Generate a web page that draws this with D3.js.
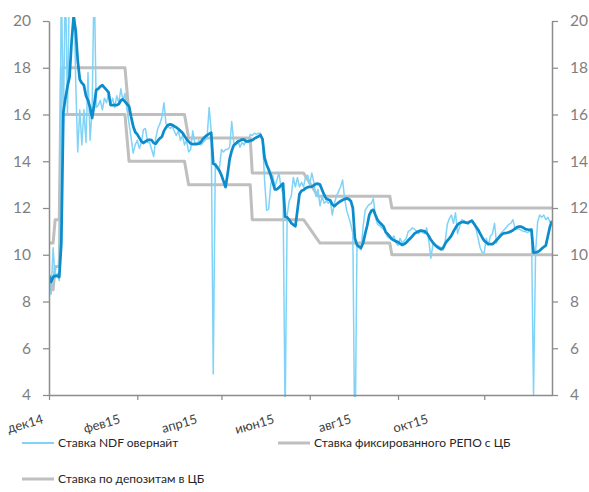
<!DOCTYPE html>
<html>
<head>
<meta charset="utf-8">
<script src="https://cdn.jsdelivr.net/npm/d3@7"></script>
<style>
  body { margin: 0; background: #fff; }
  svg { display: block; }
</style>
</head>
<body>
<svg id="chart" width="589" height="492"></svg>
<script>
// Daily NDF overnight rate, one value per trading day (Dec 2014 – Nov 2015), %
const ndfOvernight = [
  9.1, 8.3, 10.3, 9.0, 9.2, 8.9, 22, 15.6, 22, 16.0,
  22, 22, 22, 17.4, 14.4, 16.2, 14.7, 16.2, 14.8, 17.8,
  14.9, 16.2, 22, 16.3, 16.4, 16.6, 16.2, 16.7, 16.5, 16.9,
  16.4, 16.7, 16.3, 16.8, 16.5, 17.1, 16.6, 16.9, 16.2, 15.6,
  15.0, 14.35, 14.7, 14.9, 14.55, 14.8, 15.35, 15.4, 14.8, 14.8,
  14.5, 14.2, 15.0, 15.4, 15.6, 15.9, 16.5, 15.6, 15.5, 15.4,
  15.5, 15.3, 15.1, 15.3, 14.9, 15.1, 14.7, 14.9, 14.4, 14.5,
  15.3, 14.8, 14.7, 14.9, 14.7, 14.8, 14.9, 15.0, 16.3, 15.3,
  4.9, 13.9, 13.8, 13.7, 14.5, 14.4, 14.5, 14.5, 14.6, 15.7,
  14.8, 14.7, 14.9, 14.6, 14.8, 14.7, 14.9, 14.8, 15.15, 15.1,
  15.2, 15.15, 15.2, 15.2, 14.9, 13.2, 11.9, 11.95, 13.0, 13.4,
  12.9, 13.2, 13.5, 12.9, 12.6, 3.0, 11.7, 12.3, 12.5, 13.3,
  12.9, 13.3, 12.9, 13.1, 12.9, 13.35, 13.4, 13.0, 13.5, 13.1,
  12.5, 12.8, 12.1, 12.5, 12.2, 12.3, 12.2, 12.3, 11.7, 12.2,
  12.5, 12.7, 12.9, 13.2, 12.4, 11.9, 11.6, 11.3, 10.9, 1.0,
  10.4, 10.3, 10.2, 11.2, 11.9, 12.05, 12.15, 12.2, 12.4, 11.6,
  11.3, 11.25, 11.15, 11.1, 10.9, 10.75, 10.7, 10.7, 10.8, 10.5,
  10.4, 10.7, 10.5, 10.6, 10.7, 11.0, 11.05, 11.15, 11.1, 11.0,
  10.9, 11.05, 10.95, 10.9, 11.15, 10.6, 9.85, 10.45, 10.4, 10.4,
  10.35, 10.3, 10.2, 10.6, 11.3, 11.55, 11.7, 11.35, 11.8, 10.9,
  11.2, 11.5, 11.45, 11.4, 11.3, 11.4, 11.5, 11.35, 11.1, 10.7,
  10.3, 10.1, 10.1, 10.7, 10.4, 10.8, 10.9, 11.35, 10.5, 10.8,
  10.9, 11.0, 11.1, 11.2, 11.3, 11.35, 11.5, 11.1, 11.1, 11.1,
  11.05, 11.0, 11.0, 10.95, 11.0, 11.05, 4.0, 10.1, 11.4, 11.7,
  11.6, 11.7, 11.5, 11.6, 11.4, 11.3
];

// Smoothed (moving-average) NDF overnight rate on the same trading days, %
const ndfAverage = [
  9.13, 8.83, 9.05, 9.1, 9.1, 9.05, 10.5, 16.1, 16.7, 17.2,
  17.6, 19.1, 20.2, 19.6, 18.3, 17.5, 17.35, 17.25, 16.8, 16.6,
  16.3, 15.85, 16.4, 17.05, 17.1, 17.2, 17.25, 17.15, 17.05, 16.95,
  16.4, 16.4, 16.4, 16.4, 16.45, 16.6, 16.65, 16.55, 16.45, 16.35,
  15.9, 15.5, 15.25, 15.15, 15.0, 14.85, 14.78, 14.85, 14.9, 14.92,
  14.9, 14.78, 14.75, 14.88, 14.98, 15.05, 15.3, 15.45, 15.55, 15.58,
  15.56, 15.5, 15.45, 15.38, 15.3, 15.22, 15.08, 14.95, 14.85, 14.76,
  14.73, 14.73, 14.74, 14.75, 14.82, 14.95, 15.05, 15.12, 15.17, 15.22,
  13.9, 13.85, 13.72, 13.6, 13.4, 13.15, 12.9, 13.45, 14.1, 14.45,
  14.68, 14.76, 14.84, 14.88, 14.93, 14.93, 14.85, 14.85, 14.88, 14.9,
  14.97, 15.02, 15.06, 15.12, 14.95, 14.15, 13.85, 13.65, 13.4, 13.1,
  12.8, 12.8, 12.88, 12.96, 13.05, 11.63, 11.6, 11.5, 11.36, 11.28,
  11.22, 11.9, 12.6, 12.74, 12.77, 12.85, 12.89, 12.9, 12.91, 12.97,
  13.03, 13.04, 13.0, 12.78, 12.57, 12.4, 12.36, 12.33, 12.15, 12.08,
  12.16, 12.23, 12.29, 12.34, 12.38, 12.41, 12.38, 12.3, 12.0, 10.7,
  10.42, 10.35, 10.3, 10.5, 10.9, 11.25, 11.7, 11.88, 11.92, 11.7,
  11.5, 11.38, 11.3, 11.2, 10.98, 10.88, 10.78, 10.67, 10.62, 10.57,
  10.54, 10.48, 10.42, 10.46, 10.52, 10.62, 10.7, 10.8, 10.9, 10.96,
  11.0, 11.03, 11.02, 11.0, 10.92, 10.8, 10.64, 10.52, 10.42, 10.34,
  10.28, 10.23, 10.3, 10.48, 10.6, 10.7, 10.82, 11.0, 11.15, 11.28,
  11.36, 11.39, 11.41, 11.37, 11.36, 11.42, 11.45, 11.33, 11.2, 11.07,
  10.9, 10.74, 10.6, 10.52, 10.46, 10.45, 10.45, 10.53, 10.63, 10.72,
  10.82, 10.9, 10.93, 10.94, 10.96, 11.0, 11.05, 11.12, 11.18, 11.2,
  11.2, 11.16, 11.1, 11.08, 11.06, 11.07, 10.09, 10.1, 10.12, 10.18,
  10.26, 10.33, 10.4, 10.8, 11.2, 11.45
];

// Central bank fixed REPO rate: [trading day, %] at each change
const repoRate = [
  [0, 10.5], [2, 10.5], [3, 11.5], [5, 11.5], [6, 18], [37, 18], [39, 16],
  [66, 16], [68, 15], [98, 15], [99, 13.5], [124, 13.5], [131, 12.5],
  [166, 12.5], [167, 12], [245, 12]
];

// Central bank deposit rate: [trading day, %] at each change
const depositRate = [
  [0, 8.5], [2, 8.5], [3, 9.5], [5, 9.5], [6, 16], [37, 16], [39, 14],
  [66, 14], [68, 13], [98, 13], [99, 11.5], [124, 11.5], [132, 10.5],
  [166, 10.5], [167, 10], [245, 10]
];

const yTicks = [4, 6, 8, 10, 12, 14, 16, 18, 20];
const monthTickDays = [0, 43, 84, 127, 170, 212];
const monthLabels = ["дек14", "фев15", "апр15", "июн15", "авг15", "окт15"];
const seriesNames = ["Ставка NDF овернайт", "Ставка фиксированного РЕПО с ЦБ", "Ставка по депозитам в ЦБ"];

// ---- layout & style ----
const FONT = "Lato, 'Open Sans', sans-serif";
const LIGHT_BLUE = "#80d3f7";
const DARK_BLUE = "#0d8ccb";
const GREY = "#bfbfbf";
const AXIS = "#8c8c8c";
const plot = { left: 49, right: 552, top: 21, bottom: 395 };

const svg = d3.select("#chart");

const x = d3.scaleLinear().domain([0, ndfOvernight.length - 1]).range([plot.left, plot.right]);
const y = d3.scaleLinear().domain([4, 20]).range([plot.bottom, plot.top]);

svg.append("defs").append("clipPath").attr("id", "plotClip")
  .append("rect")
  .attr("x", plot.left).attr("y", plot.top - 4)
  .attr("width", plot.right - plot.left).attr("height", plot.bottom - plot.top + 6);

const series = svg.append("g").attr("clip-path", "url(#plotClip)");

const stepLine = d3.line().x(d => x(d[0])).y(d => y(d[1]));
const dailyLine = d3.line().x((d, i) => x(i)).y(d => y(d));

series.append("path").datum(depositRate)
  .attr("d", stepLine).attr("fill", "none")
  .attr("stroke", GREY).attr("stroke-width", 3).attr("stroke-linejoin", "round");
series.append("path").datum(repoRate)
  .attr("d", stepLine).attr("fill", "none")
  .attr("stroke", GREY).attr("stroke-width", 3).attr("stroke-linejoin", "round");
series.append("path").datum(ndfOvernight)
  .attr("d", dailyLine).attr("fill", "none")
  .attr("stroke", LIGHT_BLUE).attr("stroke-width", 1.5).attr("stroke-linejoin", "round");
series.append("path").datum(ndfAverage)
  .attr("d", dailyLine).attr("fill", "none")
  .attr("stroke", DARK_BLUE).attr("stroke-width", 2.75).attr("stroke-linejoin", "round");

// ---- axes ----
function styleAxis(g) {
  g.select(".domain").attr("stroke", AXIS).attr("stroke-width", 1.5);
  g.selectAll(".tick line").attr("stroke", AXIS).attr("stroke-width", 1.25);
  g.selectAll(".tick text").attr("fill", "#7f7f7f")
    .style("font-family", FONT).style("font-size", "15.5px");
}

svg.append("g").attr("transform", `translate(${plot.left},0)`)
  .call(d3.axisLeft(y).tickValues(yTicks).tickSize(6).tickSizeOuter(0).tickPadding(12))
  .call(styleAxis);

svg.append("g").attr("transform", `translate(${plot.right},0)`)
  .call(d3.axisRight(y).tickValues(yTicks).tickSize(6).tickSizeOuter(0).tickPadding(12))
  .call(styleAxis);

svg.append("g").attr("transform", `translate(0,${plot.bottom})`)
  .call(d3.axisBottom(x).tickValues(monthTickDays).tickSize(5).tickSizeOuter(0).tickFormat(() => ""))
  .call(styleAxis);

// Month labels, slanted
const xLabel = d3.scalePoint().domain(monthLabels).range([44, 429]);
svg.append("g").selectAll("text").data(monthLabels).join("text")
  .attr("transform", d => `translate(${xLabel(d)},423) rotate(-16)`)
  .attr("text-anchor", "end")
  .attr("fill", "#404040")
  .style("font-family", FONT).style("font-size", "13px")
  .text(d => d);

// ---- legend ----
const legendItems = [
  { name: seriesNames[0], color: LIGHT_BLUE, width: 2, x: 22, y: 443 },
  { name: seriesNames[1], color: GREY, width: 3, x: 278, y: 443 },
  { name: seriesNames[2], color: GREY, width: 3, x: 22, y: 479 }
];
const legend = svg.append("g").selectAll("g").data(legendItems).join("g")
  .attr("transform", d => `translate(${d.x},${d.y})`);
legend.append("line")
  .attr("x1", 0).attr("x2", 32).attr("y1", 0).attr("y2", 0)
  .attr("stroke", d => d.color).attr("stroke-width", d => d.width);
legend.append("text")
  .attr("x", 36).attr("y", 0).attr("dy", "0.35em")
  .attr("fill", "#262626")
  .style("font-family", FONT).style("font-size", "12px")
  .text(d => d.name);
</script>
</body>
</html>
